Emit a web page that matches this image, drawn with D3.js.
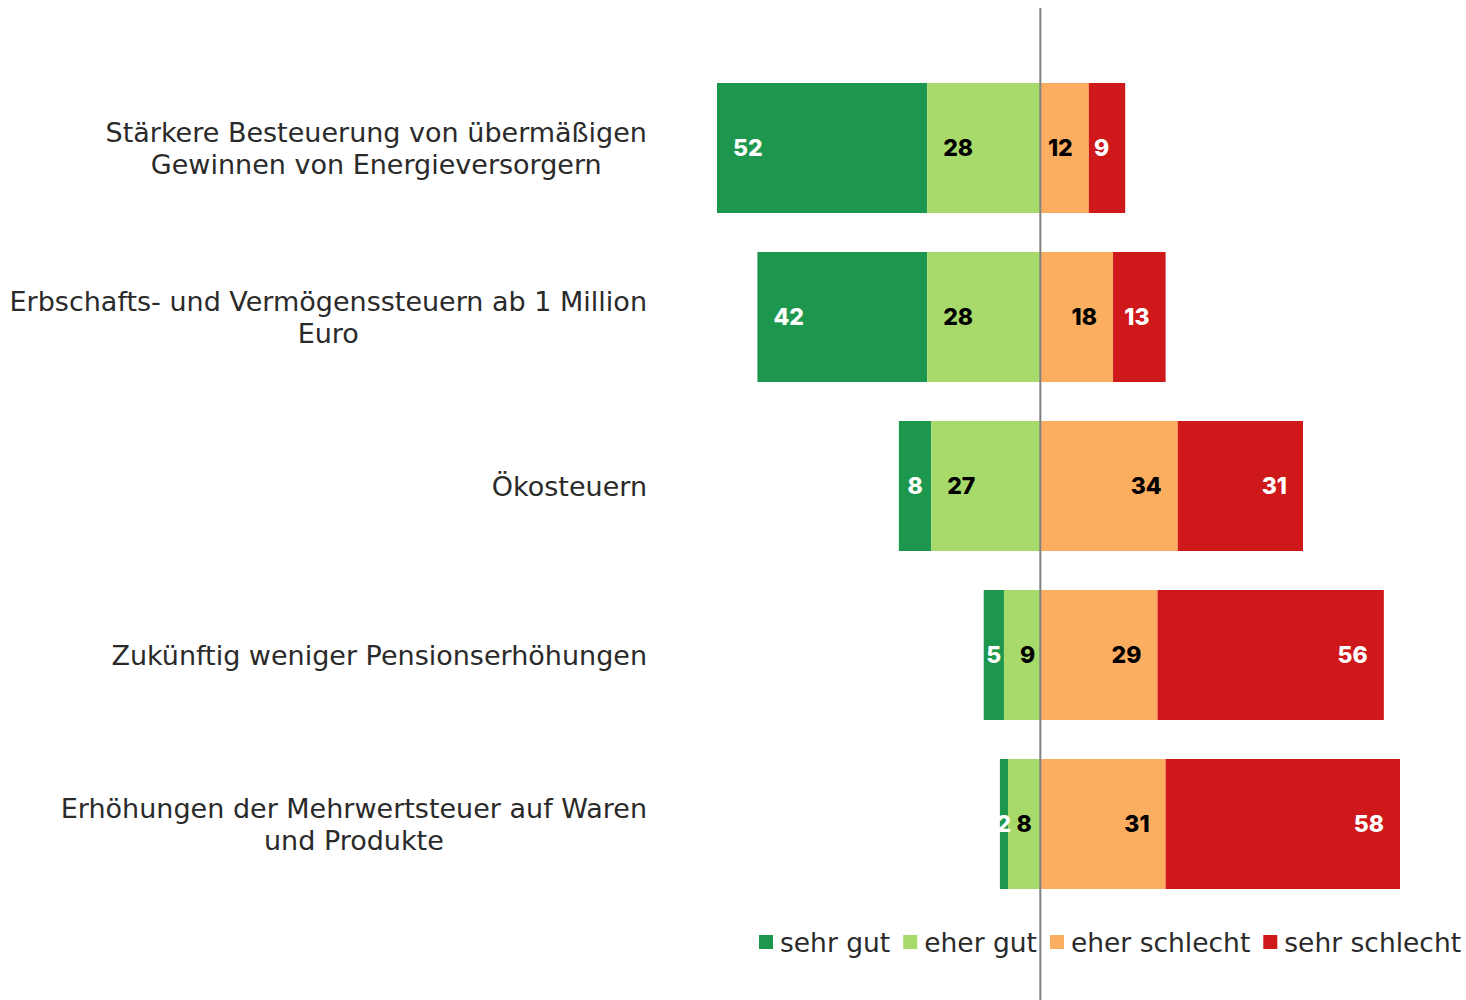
<!DOCTYPE html>
<html><head><meta charset="utf-8">
<script src="https://cdn.jsdelivr.net/npm/d3@7"></script>
<style>body{margin:0;background:#fff}svg{display:block}</style>
</head><body>
<svg id="chart" width="1466" height="1000"></svg>
<script>
const categories = [
  "Stärkere Besteuerung von übermäßigen\nGewinnen von Energieversorgern",
  "Erbschafts- und Vermögenssteuern ab 1 Million\nEuro",
  "Ökosteuern",
  "Zukünftig weniger Pensionserhöhungen",
  "Erhöhungen der Mehrwertsteuer auf Waren\nund Produkte"
];
const seriesNames = ["sehr gut", "eher gut", "eher schlecht", "sehr schlecht"];
const sehrGut      = [52, 42, 8, 5, 2];
const eherGut      = [28, 28, 27, 9, 8];
const eherSchlecht = [12, 18, 34, 29, 31];
const sehrSchlecht = [9, 13, 31, 56, 58];
const colors = ["#1c974d", "#a8da6b", "#fcae60", "#cf181a"];
const textColors = ["#fff", "#000", "#000", "#fff"];

const svg = d3.select("#chart");
const W = 1466, H = 1000;

const leftMax = d3.max(categories, (c, i) => sehrGut[i] + eherGut[i]);
const rightMax = d3.max(categories, (c, i) => eherSchlecht[i] + sehrSchlecht[i]);
const x = d3.scaleLinear().domain([-leftMax, rightMax]).range([717, 1400]);
const pad = 39 / 169;
const y = d3.scaleBand().domain(categories).range([63.5, 908.5]).paddingInner(pad).paddingOuter(pad / 2);

// build segments
const segs = [];
categories.forEach((c, i) => {
  const g = sehrGut[i], eg = eherGut[i], es = eherSchlecht[i], ss = sehrSchlecht[i];
  segs.push({cat: c, s: 0, x0: -(g + eg), x1: -eg, v: g, side: "L"});
  segs.push({cat: c, s: 1, x0: -eg, x1: 0, v: eg, side: "L"});
  segs.push({cat: c, s: 2, x0: 0, x1: es, v: es, side: "R"});
  segs.push({cat: c, s: 3, x0: es, x1: es + ss, v: ss, side: "R"});
});

svg.append("g").selectAll("rect").data(segs).join("rect")
  .attr("x", d => x(d.x0))
  .attr("y", d => y(d.cat))
  .attr("width", d => x(d.x1) - x(d.x0))
  .attr("height", y.bandwidth())
  .attr("fill", d => colors[d.s]);

// value labels
const lab = svg.append("g")
  .attr("font-family", "Inter, 'Open Sans', sans-serif")
  .attr("font-weight", 800)
  .attr("font-size", 23);
segs.forEach(d => {
  const t = lab.append("text")
    .attr("y", y(d.cat) + y.bandwidth() / 2)
    .attr("dy", "0.36em")
    .attr("fill", textColors[d.s])
    .text(d.v);
  const tw = t.node().getComputedTextLength();
  const a = x(d.x0), b = x(d.x1), w = b - a;
  if (w < tw + 18) {
    t.attr("x", (a + b) / 2).attr("text-anchor", "middle");
  } else if (d.side === "L") {
    t.attr("x", a + 16).attr("text-anchor", "start");
  } else {
    t.attr("x", b - 16).attr("text-anchor", "end");
  }
});

// category labels
const cl = svg.append("g")
  .attr("font-family", "'DejaVu Sans', sans-serif")
  .attr("font-size", 27)
  .attr("fill", "#2a2a2a");
categories.forEach(c => {
  const lines = c.split("\n");
  const cy = y(c) + y.bandwidth() / 2;
  const lh = 32;
  const ts = lines.map((ln, k) => cl.append("text")
    .attr("y", cy + (k - (lines.length - 1) / 2) * lh)
    .attr("dy", "0.36em")
    .attr("text-anchor", "middle")
    .text(ln));
  const maxW = d3.max(ts, t => t.node().getComputedTextLength());
  ts.forEach(t => t.attr("x", 647 - maxW / 2));
});

// legend
const lg = svg.append("g")
  .attr("font-family", "'DejaVu Sans', sans-serif")
  .attr("font-size", 26.5)
  .attr("fill", "#2a2a2a");
let lx = 759;
const ly = 942;
seriesNames.forEach((n, i) => {
  lg.append("rect").attr("x", lx).attr("y", ly - 7).attr("width", 14).attr("height", 14).attr("fill", colors[i]);
  const t = lg.append("text").attr("x", lx + 21).attr("y", ly).attr("dy", "0.36em").text(n);
  lx += 21 + t.node().getComputedTextLength() + 13;
});

// zero line
svg.append("line")
  .attr("x1", x(0)).attr("x2", x(0))
  .attr("y1", 8).attr("y2", H)
  .attr("stroke", "#808080").attr("stroke-width", 2);
</script>
</body></html>
